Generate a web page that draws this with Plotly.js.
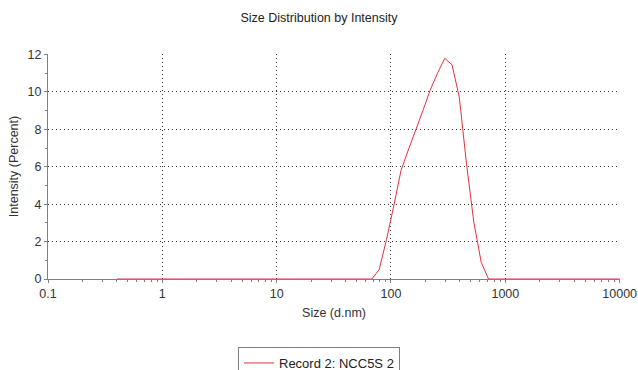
<!DOCTYPE html>
<html>
<head>
<meta charset="utf-8">
<script src="https://cdn.plot.ly/plotly-3.0.1.min.js"></script>
<style>html,body{margin:0;padding:0;background:#fff;}#chart{width:638px;height:370px;}</style>
</head>
<body>
<div id="chart"></div>
<script>
// Size bins (d.nm)
const sizes = [0.4, 0.4632, 0.5365, 0.6213, 0.7195, 0.8332, 0.9649, 1.117, 1.294, 1.499,
  1.736, 2.01, 2.328, 2.696, 3.122, 3.615, 4.187, 4.849, 5.615, 6.503,
  7.531, 8.721, 10.1, 11.7, 13.54, 15.69, 18.17, 21.04, 24.36, 28.21,
  32.67, 37.84, 43.82, 50.75, 58.77, 68.06, 78.82, 91.28, 105.7, 122.4,
  141.8, 164.2, 190.1, 220.2, 255.0, 295.3, 342.0, 396.1, 458.7, 531.2,
  615.1, 712.4, 825.0, 955.4, 1106, 1281, 1484, 1718, 1990, 2305,
  2669, 3091, 3580, 4145, 4801, 5560, 6439, 7456, 8635, 10000];
// Intensity (Percent)
const intensity = [0, 0, 0, 0, 0, 0, 0, 0, 0, 0,
  0, 0, 0, 0, 0, 0, 0, 0, 0, 0,
  0, 0, 0, 0, 0, 0, 0, 0, 0, 0,
  0, 0, 0, 0, 0, 0, 0.5, 2.1, 3.9, 5.8,
  6.9, 7.9, 9.0, 10.1, 11.0, 11.8, 11.45, 9.7, 6.1, 3.0,
  0.9, 0, 0, 0, 0, 0, 0, 0, 0, 0,
  0, 0, 0, 0, 0, 0, 0, 0, 0, 0];
const seriesName = "Record 2: NCC5S 2";
const xTickVals = [0.1, 1, 10, 100, 1000, 10000];
const xTickText = ["0.1", "1", "10", "100", "1000", "10000"];
const xMinorVals = [];
[0.1, 1, 10, 100, 1000].forEach(d => { for (let k = 2; k <= 9; k++) xMinorVals.push(+(d * k).toPrecision(3)); });
const yTickVals = [0, 2, 4, 6, 8, 10, 12];
const yMinorVals = [1, 3, 5, 7, 9, 11];

const font = "Liberation Sans, Arial, sans-serif";
const xRange = [-1, 4.003];
const yRange = [0, 12.03];
const trace = {
  x: sizes, y: intensity, type: "scatter", mode: "lines", name: seriesName,
  line: {color: "#e3323c", width: 1}, showlegend: true, cliponaxis: false
};
const gridDash = "1px,3px";
const layout = {
  width: 638, height: 370,
  margin: {l: 48, r: 18, t: 54, b: 91, autoexpand: false},
  paper_bgcolor: "#ffffff", plot_bgcolor: "#ffffff",
  font: {family: font, size: 12, color: "#333"},
  title: {text: "Size Distribution by Intensity", font: {family: font, size: 12.5, color: "#222"},
          x: 0.5, xanchor: "center", y: 1 - 18/370, yanchor: "middle", yref: "container"},
  xaxis: {
    type: "log", range: xRange, tickmode: "array", tickvals: xTickVals, ticktext: xTickText,
    showline: true, linecolor: "#808080", linewidth: 1, layer: "below traces",
    ticks: "outside", ticklen: 3, tickcolor: "#808080",
    showgrid: true, gridcolor: "#333", griddash: gridDash, gridwidth: 1,
    zeroline: false, automargin: false,
    minor: {tickmode: "array", tickvals: xMinorVals, ticks: "outside", ticklen: 2, tickcolor: "#808080", showgrid: false},
    tickfont: {family: font, size: 12.5, color: "#333"},
    title: {text: "Size (d.nm)", font: {family: font, size: 12.5, color: "#333"}, standoff: 8}
  },
  xaxis2: {
    type: "log", range: xRange, overlaying: "x", anchor: "y", side: "bottom", layer: "below traces",
    tickmode: "array", tickvals: xTickVals, showticklabels: false,
    ticks: "inside", ticklen: 3, tickcolor: "#808080", showgrid: false, showline: false, zeroline: false,
    minor: {tickmode: "array", tickvals: xMinorVals, ticks: "inside", ticklen: 2, tickcolor: "#808080", showgrid: false}
  },
  yaxis: {
    range: yRange, tickmode: "array", tickvals: yTickVals,
    showline: true, linecolor: "#808080", linewidth: 1, layer: "below traces",
    ticks: "outside", ticklen: 3, tickcolor: "#808080",
    showgrid: true, gridcolor: "#333", griddash: gridDash, gridwidth: 1,
    zeroline: false, automargin: false,
    minor: {tickmode: "array", tickvals: yMinorVals, ticks: "outside", ticklen: 2, tickcolor: "#808080", showgrid: false},
    tickfont: {family: font, size: 12.5, color: "#333"},
    title: {text: "Intensity (Percent)", font: {family: font, size: 12.5, color: "#333"}, standoff: 6}
  },
  yaxis2: {
    range: yRange, overlaying: "y", anchor: "x", side: "left", layer: "below traces",
    tickmode: "array", tickvals: yTickVals, showticklabels: false,
    ticks: "inside", ticklen: 3, tickcolor: "#808080", showgrid: false, showline: false, zeroline: false,
    minor: {tickmode: "array", tickvals: yMinorVals, ticks: "inside", ticklen: 2, tickcolor: "#808080", showgrid: false}
  },
  showlegend: true,
  legend: {
    orientation: "h", xref: "container", x: 0.5, xanchor: "center",
    yref: "container", y: 1 - 347/370, yanchor: "top",
    bordercolor: "#808080", borderwidth: 1, bgcolor: "#fff",
    font: {family: font, size: 13, color: "#222"}
  }
};
Plotly.newPlot("chart", [trace], layout, {staticPlot: true, displayModeBar: false});
</script>
</body>
</html>
